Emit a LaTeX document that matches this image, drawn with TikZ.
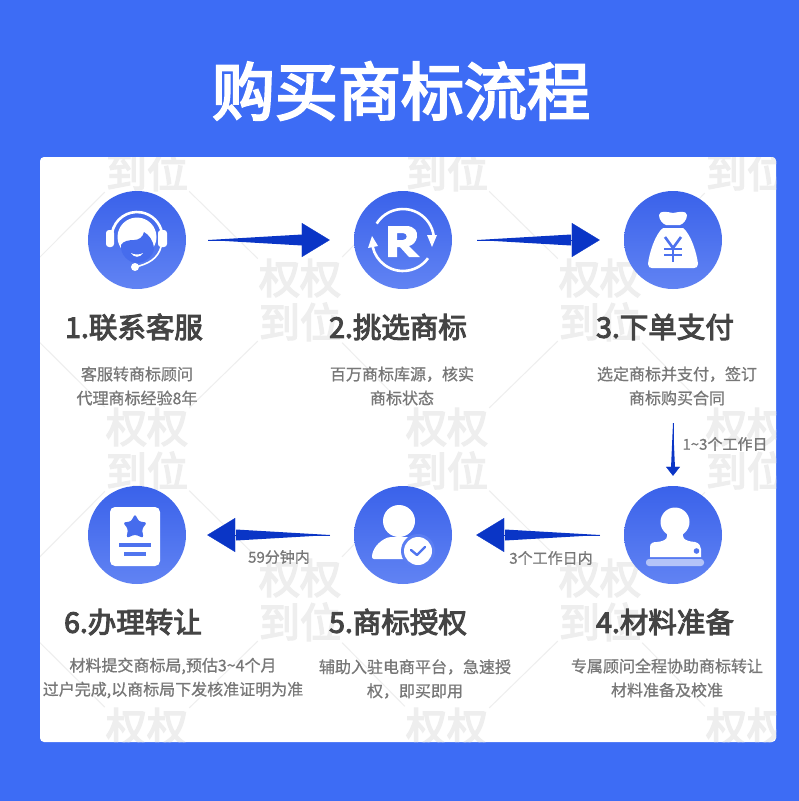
\documentclass[tikz,border=0pt]{standalone}
\usepackage{fontspec}
\usepackage{xcolor}
\usetikzlibrary{arrows.meta,calc}
\newfontfamily\cjkmid[FakeBold=3.5]{Noto Sans CJK SC}
\newfontfamily\cjksoft[FakeBold=.8]{Noto Sans CJK SC}

\definecolor{pagebg}{HTML}{3D6CF5}
\definecolor{disctop}{HTML}{3A62EA}
\definecolor{discbot}{HTML}{6183F3}
\definecolor{arrowblue}{HTML}{0A35C6}
\definecolor{headtext}{HTML}{444444}
\definecolor{desctext}{HTML}{777777}
\definecolor{marktext}{HTML}{EEEEEE}

% tapered shaft: #1 tail, #2 head base, #3 half width at the base
\newcommand{\shaft}[3]{
  \fill[arrowblue] (#1) -- ($(#2)!#3!90:(#1)$) -- ($(#2)!#3!-90:(#1)$) -- cycle;
}

\begin{document}
\begin{tikzpicture}[
  x=1pt, y=-1pt,
  disc/.style={circle, minimum size=98pt, inner sep=0pt, top color=disctop, bottom color=discbot},
  title/.style={text=white, font=\cjkmid\fontsize{63}{63}\selectfont},
  head/.style={text=headtext, font=\cjkmid\fontsize{28.5}{29}\selectfont},
  desc/.style={text=desctext, align=center, font=\cjksoft\fontsize{16}{24}\selectfont},
  note/.style={text=desctext, inner sep=0pt, font=\cjksoft\fontsize{15}{16}\selectfont},
  wmark/.style={text=marktext, align=center, inner sep=0pt, minimum width=84pt, minimum height=86pt,
                font=\cjkmid\fontsize{41}{44}\selectfont},
  wline/.style={draw=marktext, line width=1pt},
  arr/.style={-{Triangle[length=28pt,width=34pt]}, arrowblue, line width=.3pt},
  arrsmall/.style={-{Triangle[length=9pt,width=14pt]}, arrowblue, line width=.3pt}
]
\useasboundingbox (0,0) rectangle (799,801);
\fill[pagebg] (0,0) rectangle (799,801);
\fill[white, rounded corners=4pt] (40,157) rectangle (776,742);

\node[title] (title) at (401,91) {购买商标流程};

% watermark tiles
\begin{scope}
\clip[rounded corners=4pt] (40,157) rectangle (776,742);
\foreach \wname/\wx/\wy in {a/147/150, b/447/150, c/747/150, d/300/300, e/600/300, f/147/449,
    g/447/449, h/747/449, i/300/600, j/600/600, k/147/749, l/447/749, m/747/749}
  \node[wmark] (w\wname) at (\wx,\wy) {权权\\到位};
\coordinate (wn) at (-3,300);
\coordinate (wo) at (-3,600);
\coordinate (wp) at (900,300);
\coordinate (wq) at (900,600);
\foreach \wfrom/\wto in {a/d, b/d, b/e, c/e, d/f, d/g, e/g, e/h, f/i, g/i, g/j, h/j, i/k, i/l, j/l, j/m,
    a/n, f/n, f/o, k/o, c/p, h/p, h/q, m/q}
  \draw[wline] (w\wfrom) -- (w\wto);
\end{scope}

\node[disc] (serve) at (137,240) {};
\node[disc] (pick) at (403,240) {};
\node[disc] (pay) at (673,240) {};
\node[disc] (prep) at (673,535) {};
\node[disc] (auth) at (403,535) {};
\node[disc] (done) at (137,535) {};

% icon 1: headset
\begin{scope}[shift={(serve.center)}]
  \draw[white, line width=2.6pt] (-25,-7) arc (-170:-10:25.4);
  \fill[white, rounded corners=3pt] (-31,-10) rectangle (-23,7);
  \fill[white, rounded corners=3pt] (21,-10) rectangle (30,7);
  \fill[white] (0,-3) circle (19.5);
  \fill[disctop!70!discbot] (-16,5) .. controls (-14,1) and (-8,0) .. (-3,0)
     .. controls (2,0) and (6,-3) .. (7,-8) .. controls (12,-5) and (16,0) .. (17,8)
     .. controls (17,16) and (8,23) .. (0,23) .. controls (-8,23) and (-17,15) .. (-16,5) -- cycle;
  \fill[white] (-6,13) .. controls (-3,18) and (3,18) .. (6,13) .. controls (3,15) and (-3,15) .. (-6,13) -- cycle;
  \draw[white, line width=1.6pt] (24,7) .. controls (21,18) and (12,24) .. (-2,27);
  \fill[white] (-2,27) circle (4);
\end{scope}

% icon 2: R and turning arrows
\begin{scope}[shift={(pick.center)}]
  \draw[white, line width=2.6pt] (-26.3,-16.4) arc (-148:-8:31);
  \fill[white] (24,-5) -- (34,-5) -- (29,7) -- cycle;
  \draw[white, line width=2.6pt] (25,18.2) arc (36:167:31);
  \fill[white] (-35,8) -- (-25,6) -- (-31,-4) -- cycle;
  \fill[white, even odd rule] (-15,-14) -- (3,-14) .. controls (12,-14) and (15,-8) .. (14,-3)
     .. controls (13,2) and (10,5) .. (6,6) -- (17,17) -- (6,17) -- (-3,7) -- (-6,7) -- (-6,17) -- (-15,17) -- cycle
     (-6,-7) -- (-6,0) -- (0,0) .. controls (5,0) and (5,-7) .. (0,-7) -- cycle;
\end{scope}

% icon 3: money bag
\begin{scope}[shift={(pay.center)}]
  \fill[white] (-14,-25) .. controls (-13,-30) and (-6,-28) .. (0,-27) .. controls (6,-28) and (13,-30) .. (14,-25)
     .. controls (14,-20) and (10,-16) .. (7,-15) -- (-7,-15) .. controls (-10,-16) and (-14,-20) .. (-14,-25) -- cycle;
  \fill[white] (-10,-12) -- (10,-12) .. controls (18,-6) and (24,14) .. (25,24)
     .. controls (25,27) and (23,28) .. (21,28) -- (-21,28) .. controls (-23,28) and (-25,27) .. (-25,24)
     .. controls (-24,14) and (-18,-6) .. (-10,-12) -- cycle;
  \draw[disctop!50!discbot, line width=2.6pt] (-8,-3) -- (0,8) -- (8,-3);
  \draw[disctop!50!discbot, line width=2.4pt] (-9,9) -- (9,9) (-9,15) -- (9,15) (0,8) -- (0,22);
\end{scope}

% icon 4: stamp
\begin{scope}[shift={(prep.center)}]
  \fill[white] (2,-13) circle (14.5);
  \fill[white] (-7,-4) -- (11,-4) .. controls (8,2) and (10,6) .. (22,7)
     .. controls (26,8) and (28,11) .. (28,14) -- (28,22) -- (-23,22) -- (-23,12)
     .. controls (-23,8) and (-20,7) .. (-16,7) .. controls (-6,6) and (-4,2) .. (-7,-4) -- cycle;
  \fill[disctop!40!discbot] (23.5,16) circle (2.8);
  \fill[white, opacity=.55, rounded corners=3pt] (-27,24) rectangle (31,31);
\end{scope}

% icon 5: person and tick
\begin{scope}[shift={(auth.center)}]
  \fill[white] (-4,-14) circle (16);
  \fill[white, rounded corners=2pt] (-31,24) .. controls (-31,14) and (-24,6) .. (-14,2)
     -- (5,2) .. controls (14,5) and (21,14) .. (21,24) -- cycle;
  \fill[disctop!15!discbot] (15,16) circle (17);
  \fill[white] (15,16) circle (14);
  \draw[disctop!40!discbot, line width=2.4pt, line cap=round, line join=round] (8,15) -- (14,20) -- (22,12);
\end{scope}

% icon 6: certificate
\begin{scope}[shift={(done.center)}]
  \fill[white, rounded corners=5pt] (-27,-28) rectangle (23,31);
  \fill[disctop!70!discbot, rounded corners=2.5pt] (-2,-21) -- (2,-13.5) -- (10,-12.5) -- (5,-6) -- (6.5,3) -- (-2,-.5)
     -- (-10.5,3) -- (-9,-6) -- (-14,-12.5) -- (-6,-13.5) -- cycle;
  \draw[disctop!50!discbot, line width=3.4pt] (-18,10) -- (14,10);
  \draw[disctop!40!discbot, line width=3.4pt] (-13,19) -- (9,19);
\end{scope}

\node[head] (serve title) at (134,327) {1.联系客服};
\node[head] (pick title) at (398,327) {2.挑选商标};
\node[head] (pay title) at (665,327) {3.下单支付};
\node[head] (prep title) at (665,622) {4.材料准备};
\node[head] (auth title) at (398,622) {5.商标授权};
\node[head] (done title) at (133,622) {6.办理转让};

\node[desc] (serve text) at (137,386) {客服转商标顾问\\代理商标经验8年};
\node[desc] (pick text) at (402,386) {百万商标库源，核实\\商标状态};
\node[desc] (pay text) at (677,386) {选定商标并支付，签订\\商标购买合同};
\node[desc] (prep text) at (667,678) {专属顾问全程协助商标转让\\材料准备及校准};
\node[desc] (auth text) at (415,679) {辅助入驻电商平台，急速授\\权，即买即用};
\node[desc] (done text) at (173,678) {材料提交商标局,预估3\string~4个月\\过户完成,以商标局下发核准证明为准};

% tapered connectors
\coordinate (tail a) at (208,240);
\coordinate (base a) at (302,240);
\shaft{tail a}{base a}{5.5pt}
\draw[arr, shorten <=22pt, shorten >=24pt] (serve) -- (pick);
\coordinate (tail b) at (477,240);
\coordinate (base b) at (571,240);
\shaft{tail b}{base b}{5.5pt}
\draw[arr, shorten <=25pt, shorten >=24pt] (pick) -- (pay);
\coordinate (tail c) at (673,423);
\coordinate (base c) at (673,468);
\shaft{tail c}{base c}{2pt}
\draw[arrsmall, shorten <=134pt, shorten >=10pt] (pay) -- (prep);
\coordinate (tail d) at (600,535);
\coordinate (base d) at (505,535);
\shaft{tail d}{base d}{5.5pt}
\draw[arr, shorten <=24pt, shorten >=24pt] (prep) -- (auth);
\coordinate (tail e) at (330,535);
\coordinate (base e) at (236,535);
\shaft{tail e}{base e}{5.5pt}
\draw[arr, shorten <=24pt, shorten >=21pt] (auth) -- (done);
\node[note] (pay note) at (725,444) {1\string~3个工作日};
\node[note] (prep note) at (551,558) {3个工作日内};
\node[note] (auth note) at (279,557) {59分钟内};
\end{tikzpicture}
\end{document}
